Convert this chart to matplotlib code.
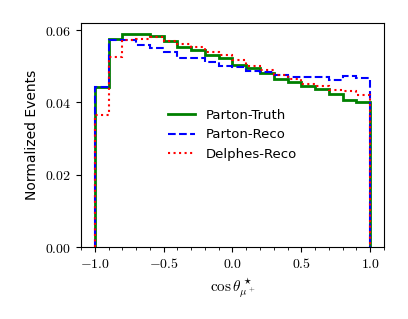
import numpy as np
import matplotlib
matplotlib.use("Agg")
import matplotlib.pyplot as plt
from matplotlib.lines import Line2D
from matplotlib.ticker import MultipleLocator, FormatStrFormatter

plt.rcParams['mathtext.fontset'] = 'cm'

# 20 bins in cos(theta*) from -1 to 1, fractions per bin
bin_edges = np.linspace(-1.0, 1.0, 21)

parton_truth = [0.0444, 0.0575, 0.0589, 0.0589, 0.0583, 0.0571, 0.0553, 0.0545, 0.0532, 0.0522,
                0.0505, 0.0494, 0.0482, 0.0466, 0.0456, 0.0445, 0.0436, 0.0423, 0.0408, 0.0401]
parton_reco = [0.0444, 0.0572, 0.0572, 0.0558, 0.0550, 0.0539, 0.0523, 0.0523, 0.0511, 0.0500,
               0.0498, 0.0488, 0.0483, 0.0475, 0.0470, 0.0470, 0.0470, 0.0463, 0.0472, 0.0468]
delphes_reco = [0.0366, 0.0525, 0.0573, 0.0575, 0.0581, 0.0571, 0.0562, 0.0554, 0.0541, 0.0532,
                0.0518, 0.0501, 0.0491, 0.0476, 0.0466, 0.0452, 0.0445, 0.0434, 0.0431, 0.0421]

centers = 0.5 * (bin_edges[:-1] + bin_edges[1:])

styles = [
    ('Parton-Truth', parton_truth, dict(color='green', linewidth=2, linestyle='-')),
    ('Parton-Reco', parton_reco, dict(color='blue', linewidth=1.5, linestyle='--')),
    ('Delphes-Reco', delphes_reco, dict(color='red', linewidth=1.5, linestyle=':')),
]

fig = plt.figure(figsize=(4.08, 3.19), dpi=100)
ax = fig.add_axes([0.1985, 0.2257, 0.7425, 0.7023])

handles = []
for label, vals, kw in styles:
    ax.hist(centers, bins=bin_edges, weights=vals, histtype='step', **kw)
    handles.append(Line2D([], [], label=label, **kw))

ax.set_xlim(-1.1, 1.1)
ax.set_ylim(0, 0.062)
ax.xaxis.set_major_locator(MultipleLocator(0.5))
ax.xaxis.set_minor_locator(MultipleLocator(0.1))
ax.yaxis.set_major_locator(MultipleLocator(0.02))
ax.xaxis.set_major_formatter(FormatStrFormatter('$%.1f$'))
ax.yaxis.set_major_formatter(FormatStrFormatter('$%.2f$'))
ax.tick_params(labelsize=10)

ax.set_xlabel(r'$\cos\theta^\star_{\mu^+}$', fontsize=11)
ax.set_ylabel('Normalized Events', fontsize=10)

ax.legend(handles=handles, loc='center', frameon=False, fontsize=9.5)

fig.savefig('out.png', dpi=100)
